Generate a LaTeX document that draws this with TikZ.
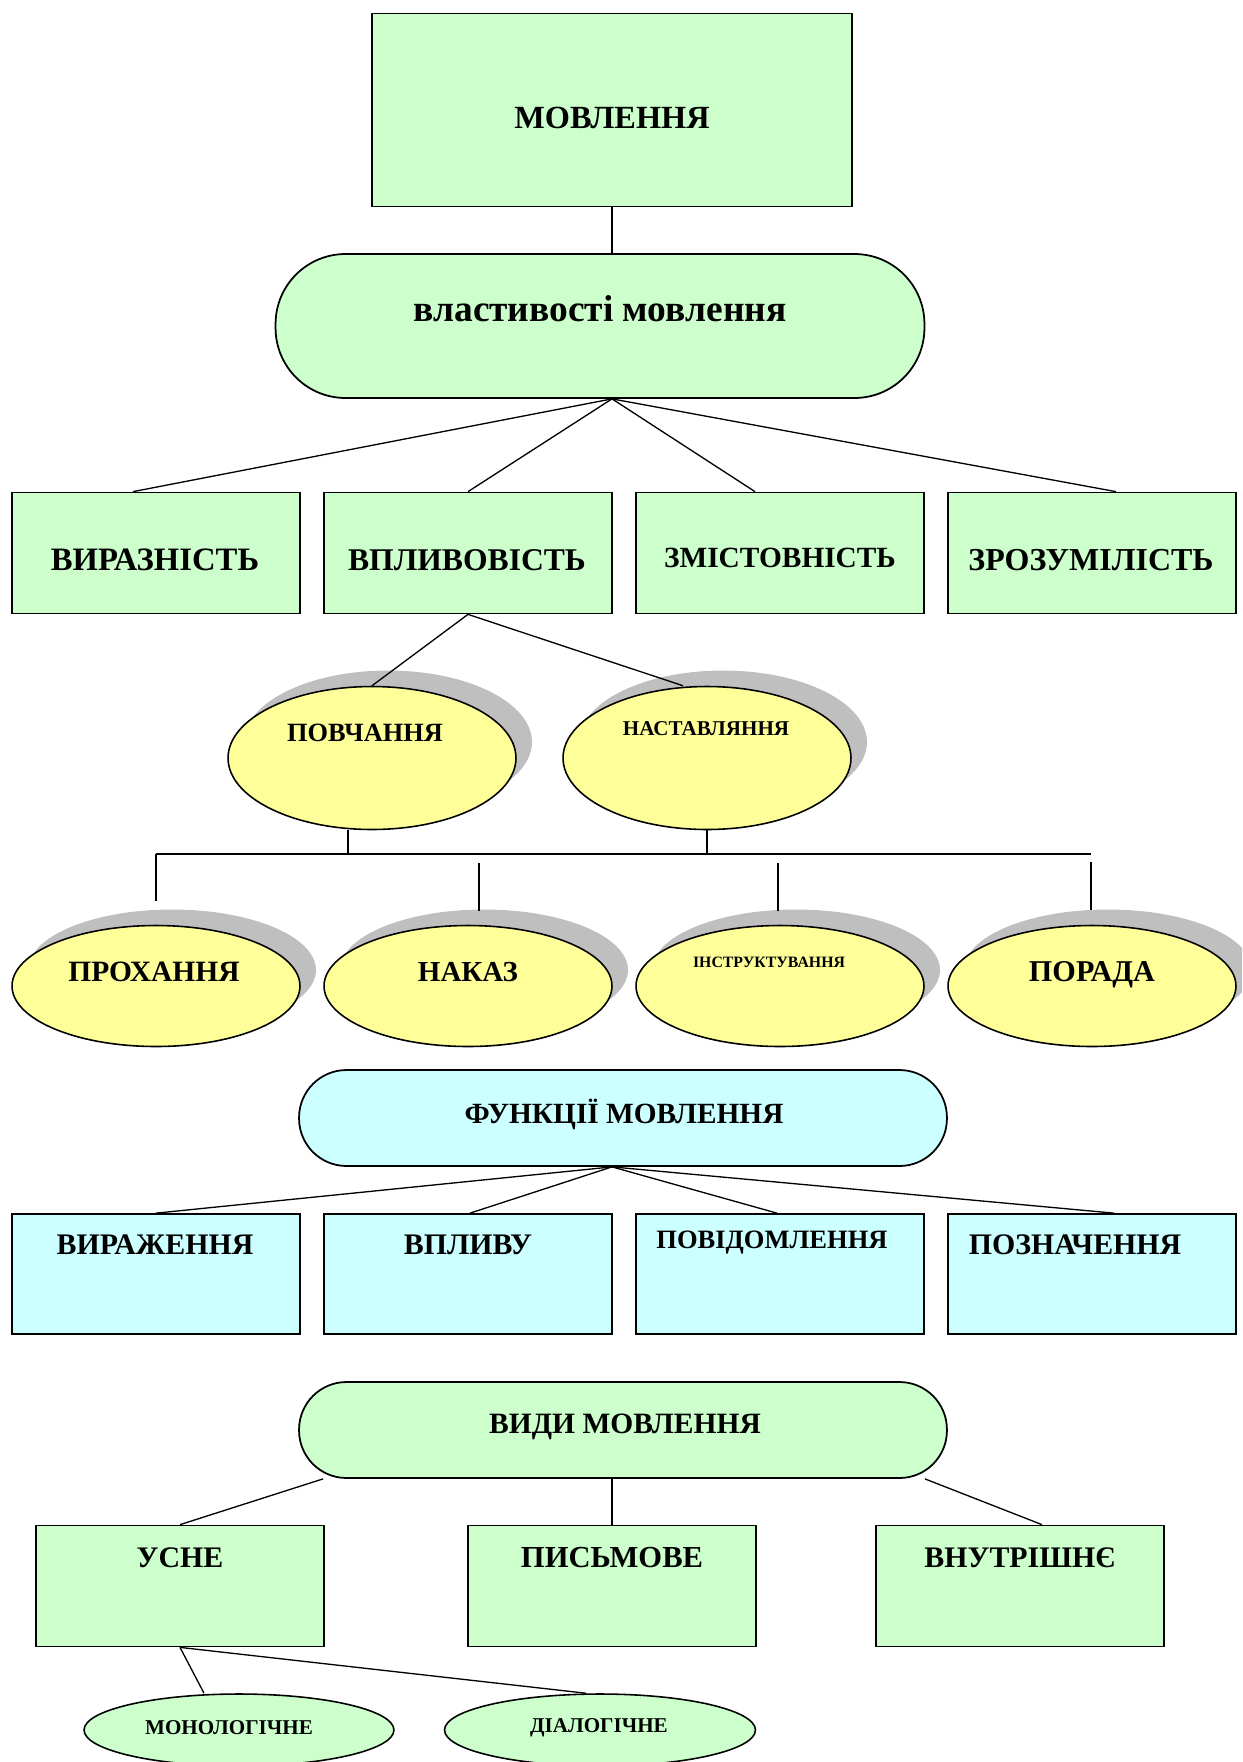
\documentclass[tikz,border=0pt]{standalone}
\usepackage{fontspec}
\setmainfont{Liberation Serif}
\usepackage{xcolor}
\usepackage{tikz}
\usetikzlibrary{shapes.geometric}
\usetikzlibrary{shadows}

\definecolor{mintgreen}{HTML}{CCFFCC}
\definecolor{paleyellow}{HTML}{FFFF99}
\definecolor{palecyan}{HTML}{CCFFFF}

\tikzset{
    box/.style={draw, line width=1pt, minimum width=5.76cm, minimum height=2.42cm, inner sep=0pt},
    pill/.style={draw, line width=1pt, minimum width=12.96cm, minimum height=1.92cm, rounded corners=0.95cm, inner sep=0pt},
    oval/.style={ellipse, draw, line width=0.9pt, minimum width=5.76cm, inner sep=0pt},
    shadowed/.style={oval, fill=paleyellow, drop shadow={shadow xshift=0.32cm, shadow yshift=0.32cm, fill=black!25, opacity=1}},
    word/.style={inner sep=0pt, font=\bfseries\fontsize{17}{19}\selectfont},
    link/.style={line width=0.75pt}
}

\begin{document}
\begin{tikzpicture}[x=0.02cm, y=-0.02cm]
        \path[use as bounding box, clip] (0, 0) rectangle (1242, 1762);

        \node[box, fill=mintgreen, minimum width=9.6cm, minimum height=3.86cm] (movl) at (612, 110) {};
        \node[word, font=\bfseries\fontsize{18.4}{20}\selectfont] (tmovl) at (612, 118) {МОВЛЕННЯ};
        \node[pill, fill=mintgreen, minimum width=12.98cm, minimum height=2.88cm, rounded corners=1.4cm] (vlast) at (600, 326) {};
        \node[word, font=\bfseries\fontsize{21.3}{23}\selectfont] (tvlast) at (600, 309) {властивості мовлення};

        \node[box, fill=mintgreen] (vyr) at (156, 553) {};
        \node[word, font=\bfseries\fontsize{18.6}{20}\selectfont] (tvyr) at (155, 560) {ВИРАЗНІСТЬ};
        \node[box, fill=mintgreen] (vpl) at (468, 553) {};
        \node[word, font=\bfseries\fontsize{18}{20}\selectfont] (tvpl) at (467, 560) {ВПЛИВОВІСТЬ};
        \node[box, fill=mintgreen] (zmist) at (780, 553) {};
        \node[word, font=\bfseries\fontsize{16.7}{18}\selectfont] (tzmist) at (780, 558) {ЗМІСТОВНІСТЬ};
        \node[box, fill=mintgreen] (zroz) at (1092, 553) {};
        \node[word, font=\bfseries\fontsize{18.2}{20}\selectfont] (tzroz) at (1091, 560) {ЗРОЗУМІЛІСТЬ};

        \draw[link] (movl.south) -- (movl.south |- vlast.north);
        \coordinate (hubA) at (movl.south |- vlast.south);
        \draw[link] (hubA) -- ([xshift=-0.46cm]vyr.north);
        \draw[link] (hubA) -- (vpl.north);
        \draw[link] (hubA) -- ([xshift=-0.5cm]zmist.north);
        \draw[link] (hubA) -- ([xshift=0.48cm]zroz.north);

        \node[shadowed, minimum height=2.86cm] (povch) at (372, 758) {};
        \node[word, font=\bfseries\fontsize{15}{17}\selectfont] (tpovch) at (365, 733) {ПОВЧАННЯ};
        \node[shadowed, minimum height=2.86cm] (nast) at (707, 758) {};
        \node[word, font=\bfseries\fontsize{12}{14}\selectfont] (tnast) at (706, 729) {НАСТАВЛЯННЯ};

        \draw[link] (vpl.south) -- (povch.north);
        \draw[link] (vpl.south) -- ([xshift=-0.48cm]nast.north);

        \coordinate (barL) at (156, 854);
        \coordinate (barR) at (1091, 854);
        \draw[link] ([xshift=-0.48cm]povch.south) -- ([xshift=-0.48cm]povch.south |- barL);
        \draw[link] (nast.south) -- (nast.south |- barL);
        \draw[link] (barL) -- (barR);

        \node[shadowed, minimum height=2.42cm] (prox) at (156, 986) {};
        \node[word, font=\bfseries\fontsize{16.8}{18}\selectfont] (tprox) at (154, 972) {ПРОХАННЯ};
        \node[shadowed, minimum height=2.42cm] (nakaz) at (468, 986) {};
        \node[word, font=\bfseries\fontsize{16.5}{18}\selectfont] (tnakaz) at (468, 972) {НАКАЗ};
        \node[shadowed, minimum height=2.42cm] (instr) at (780, 986) {};
        \node[word, font=\bfseries\fontsize{9}{11}\selectfont] (tinstr) at (769, 962) {ІНСТРУКТУВАННЯ};
        \node[shadowed, minimum height=2.42cm] (porada) at (1092, 986) {};
        \node[word, font=\bfseries\fontsize{17.2}{19}\selectfont] (tporada) at (1092, 975) {ПОРАДА};

        \draw[link] (barL) -- ([yshift=0.48cm]prox.north);
        \draw[link] ([xshift=0.22cm, yshift=1.24cm]nakaz.north) -- ([xshift=0.22cm, yshift=0.28cm]nakaz.north);
        \draw[link] ([xshift=-0.04cm, yshift=1.24cm]instr.north) -- ([xshift=-0.04cm, yshift=0.28cm]instr.north);
        \draw[link] ([xshift=-0.02cm, yshift=1.26cm]porada.north) -- ([xshift=-0.02cm, yshift=0.3cm]porada.north);

        \node[pill, fill=palecyan] (funk) at (623, 1118) {};
        \node[word, font=\bfseries\fontsize{16.7}{18}\selectfont] (tfunk) at (624, 1114) {ФУНКЦІЇ МОВЛЕННЯ};

        \node[box, fill=palecyan, minimum height=2.4cm] (vyraz) at (156, 1274) {};
        \node[word] (tvyraz) at (155, 1245) {ВИРАЖЕННЯ};
        \node[box, fill=palecyan, minimum height=2.4cm] (vplyv) at (468, 1274) {};
        \node[word] (tvplyv) at (468, 1245) {ВПЛИВУ};
        \node[box, fill=palecyan, minimum height=2.4cm] (povid) at (780, 1274) {};
        \node[word, font=\bfseries\fontsize{15.1}{17}\selectfont] (tpovid) at (772, 1243) {ПОВІДОМЛЕННЯ};
        \node[box, fill=palecyan, minimum height=2.4cm] (pozn) at (1092, 1274) {};
        \node[word] (tpozn) at (1075, 1245) {ПОЗНАЧЕННЯ};

        \coordinate (hubB) at ([xshift=-0.22cm]funk.south);
        \draw[link] (hubB) -- (vyraz.north);
        \draw[link] (hubB) -- ([xshift=0.04cm]vplyv.north);
        \draw[link] (hubB) -- ([xshift=-0.06cm]povid.north);
        \draw[link] (hubB) -- ([xshift=0.44cm]pozn.north);

        \node[pill, fill=mintgreen] (vydy) at (623, 1430) {};
        \node[word, font=\bfseries\fontsize{16.8}{18}\selectfont] (tvydy) at (625, 1427) {ВИДИ МОВЛЕННЯ};

        \node[box, fill=mintgreen] (usne) at (180, 1586) {};
        \node[word] (tusne) at (180, 1558) {УСНЕ};
        \node[box, fill=mintgreen] (pysm) at (612, 1586) {};
        \node[word, font=\bfseries\fontsize{17.4}{19}\selectfont] (tpysm) at (612, 1558) {ПИСЬМОВЕ};
        \node[box, fill=mintgreen] (vnutr) at (1020, 1586) {};
        \node[word] (tvnutr) at (1020, 1558) {ВНУТРІШНЄ};

        \draw[link] ([xshift=-6cm]vydy.south) -- (usne.north);
        \draw[link] (pysm.north |- vydy.south) -- (pysm.north);
        \draw[link] ([xshift=6.04cm]vydy.south) -- ([xshift=0.44cm]vnutr.north);

        \node[oval, fill=mintgreen, minimum width=6.2cm, minimum height=1.44cm] (mono) at (239, 1730) {};
        \node[word, font=\bfseries\fontsize{12}{14}\selectfont] (tmono) at (229, 1728) {МОНОЛОГІЧНЕ};
        \node[oval, fill=mintgreen, minimum width=6.22cm, minimum height=1.44cm] (dial) at (600, 1730) {};
        \node[word, font=\bfseries\fontsize{12}{14}\selectfont] (tdial) at (599, 1728) {ДІАЛОГІЧНЕ};

        \draw[link] (usne.south) -- ([xshift=-0.7cm]mono.north);
        \draw[link] (usne.south) -- ([xshift=-0.28cm]dial.north);
\end{tikzpicture}
\end{document}
